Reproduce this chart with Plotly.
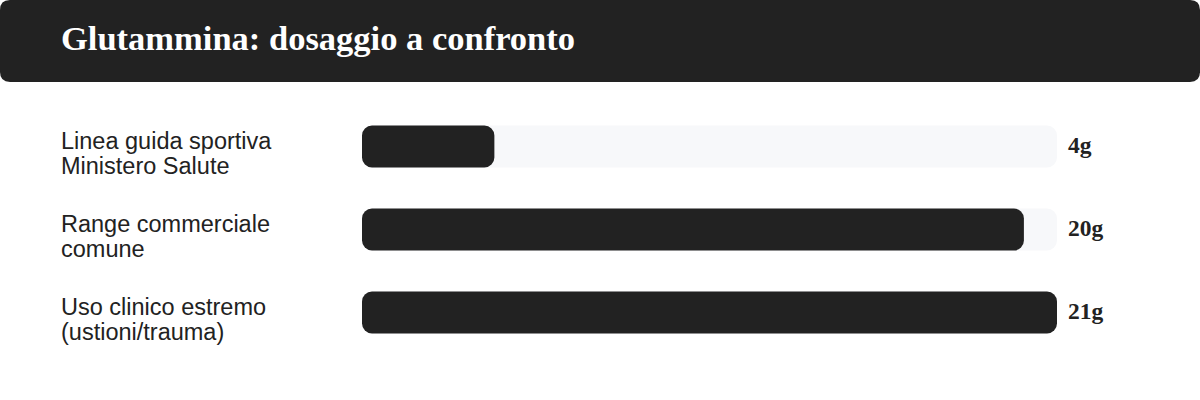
import plotly.graph_objects as go

categories = ["Linea guida sportiva<br>Ministero Salute", "Range commerciale<br>comune", "Uso clinico estremo<br>(ustioni/trauma)"]
values = [4, 20, 21]
value_labels = ["4g", "20g", "21g"]
title_text = "Glutammina: dosaggio a confronto"

W, H = 1200, 400
L, R, T, B = 362, 143, 105, 46
pw, ph = W - L - R, H - T - B
dark = "#222222"
track = "#f7f8fa"
xmax = max(values)


def px(x):
    return (x - L) / pw


def py(y):
    return 1 - (y - T) / ph


fig = go.Figure()
# explicit base -> both ends get the corner radius
fig.add_trace(go.Bar(y=categories, x=[xmax] * len(categories), base=[0] * len(categories),
                     orientation="h", marker=dict(color=track, line=dict(width=0)), hoverinfo="skip"))
fig.add_trace(go.Bar(y=categories, x=values, base=[0] * len(values),
                     orientation="h", marker=dict(color=dark, line=dict(width=0)), hoverinfo="skip"))

# rounded title band
r = 10
x0, x1, y0, y1 = 0, W, 0, 82
pts = [
    ("M", x0 + r, y0), ("L", x1 - r, y0), ("Q", x1, y0, x1, y0 + r),
    ("L", x1, y1 - r), ("Q", x1, y1, x1 - r, y1), ("L", x0 + r, y1),
    ("Q", x0, y1, x0, y1 - r), ("L", x0, y0 + r), ("Q", x0, y0, x0 + r, y0),
]
path = ""
for p in pts:
    cmd, coords = p[0], p[1:]
    seg = " ".join(f"{px(coords[i]):.5f},{py(coords[i+1]):.5f}" for i in range(0, len(coords), 2))
    path += f"{cmd}{seg} "
path += "Z"
fig.add_shape(type="path", path=path, xref="paper", yref="paper",
              fillcolor=dark, line=dict(width=0), layer="below")

fig.add_annotation(text=f"<b>{title_text}</b>", xref="paper", yref="paper",
                   x=px(59), y=py(38), xanchor="left", yanchor="middle", showarrow=False,
                   font=dict(family="Liberation Serif", size=34.5, color="white"))

for cat, lab in zip(categories, value_labels):
    lines = cat.split("<br>")
    for i, line in enumerate(lines):
        fig.add_annotation(text=line, xref="paper", yref="y", x=px(59), y=cat,
                           xanchor="left", yanchor="middle", showarrow=False,
                           yshift=6 - 25 * i,
                           font=dict(family="Liberation Sans", size=23.5, color=dark))
    fig.add_annotation(text=f"<b>{lab}</b>", xref="x", yref="y", x=xmax, y=cat,
                       xanchor="left", yanchor="middle", showarrow=False, xshift=9, yshift=2,
                       font=dict(family="Liberation Serif", size=23.5, color=dark))

fig.update_layout(
    width=W, height=H, margin=dict(l=L, r=R, t=T, b=B),
    barmode="overlay", bargap=1 - 42 / 83, barcornerradius=10,
    plot_bgcolor="white", paper_bgcolor="white", showlegend=False,
    xaxis=dict(range=[0, xmax], visible=False, fixedrange=True),
    yaxis=dict(autorange="reversed", showticklabels=False, showgrid=False,
               zeroline=False, fixedrange=True),
)

fig.write_html("out.html", config={"displayModeBar": False},
               post_script="document.body.style.margin='0';")
